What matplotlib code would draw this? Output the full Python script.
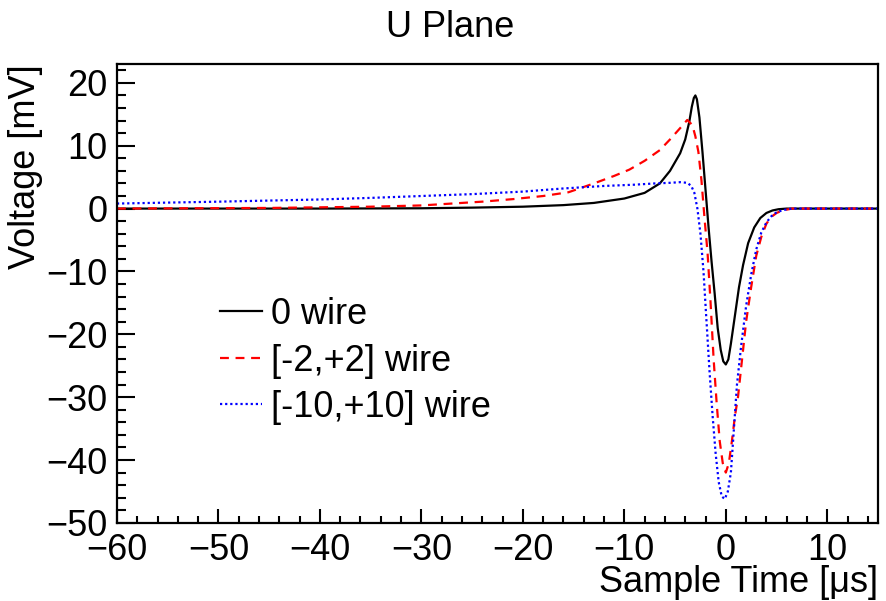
import matplotlib
matplotlib.use("Agg")
import matplotlib.pyplot as plt
from matplotlib.ticker import MultipleLocator

# Sample time [us] and voltage [mV]
t_center = [-60, -40, -30, -25, -20, -16, -13, -10, -8, -6.5, -5.5, -4.5, -4, -3.6,
            -3.35, -3.15, -3.0, -2.85, -2.6, -2.3, -2.0, -1.7, -1.4, -1.1, -0.8, -0.5, -0.25,
            0.0, 0.25, 0.5, 0.9, 1.3, 1.7, 2.2, 2.8, 3.4, 4.0, 4.6, 5.2, 6, 8, 15]
v_center = [0, 0, 0.05, 0.15, 0.3, 0.55, 0.9, 1.6, 2.5, 4.0, 6, 8.8, 11, 13.8,
            16.2, 17.6, 18.0, 17.4, 14.5, 9, 3, -3, -8.5, -13.5, -19, -22.5, -24.3,
            -24.8, -24, -21.5, -17, -12.5, -9, -5.5, -3, -1.5, -0.7, -0.3, -0.1, 0, 0, 0]

t_pm2 = [-60, -45, -35, -30, -27, -24, -21, -18, -15.5, -13, -11, -9.5, -8, -6.5,
         -5.5, -4.5, -3.8, -3.3, -3.0, -2.7, -2.4, -2.1, -1.8, -1.5, -1.2, -0.9,
         -0.6, -0.3, 0.0, 0.3, 0.6, 0.9, 1.2, 1.6, 2.0, 2.5, 3.0, 3.5, 4.0, 4.5,
         5.0, 5.6, 6.5, 8, 15]
v_pm2 = [0, 0.1, 0.3, 0.5, 0.8, 1.1, 1.5, 2.0, 2.6, 4.0, 5.2, 6.2, 7.6, 9.3,
         11, 12.8, 14.1, 13.3, 11.5, 9, 4.5, -1.5, -7, -15, -24, -31,
         -37, -40.5, -42, -40.5, -37, -33, -30, -24, -18, -12.5, -7.5, -4.5, -2.4, -1.3,
         -0.7, -0.3, 0, 0, 0]

t_pm10 = [-60, -50, -40, -35, -30, -25, -20, -16, -12, -9, -7, -5.5, -4.5, -3.8,
          -3.4, -3.1, -2.8, -2.5, -2.2, -1.9, -1.6, -1.3, -1.0, -0.7, -0.4, -0.1,
          0.2, 0.5, 0.8, 1.1, 1.5, 2.0, 2.5, 3.0, 3.5, 4.0, 4.5, 5.0, 5.6, 6.5, 8, 15]
v_pm10 = [0.8, 1.1, 1.45, 1.7, 2.0, 2.3, 2.7, 3.2, 3.6, 3.8, 4.0, 4.1, 4.2, 4.1,
          3.6, 2.5, 0, -4, -10, -18, -26, -33, -39, -43.5, -45.8, -46.2,
          -45, -42, -35, -28, -22, -15.5, -10.5, -6.5, -3.8, -2.2, -1.2, -0.6, -0.25, 0, 0, 0]

labels = ["0 wire", "[-2,+2] wire", "[-10,+10] wire"]

plt.rcParams["font.family"] = ["Liberation Sans", "DejaVu Sans"]
FS = 26

fig = plt.figure(figsize=(8.86, 6.01), dpi=100)
ax = fig.add_axes([0.132, 0.130, 0.859, 0.7635])

ax.plot(t_center, v_center, color="black", lw=1.6, label=labels[0])
ax.plot(t_pm2, v_pm2, color="red", lw=1.6, linestyle=(0, (4, 3)), label=labels[1])
ax.plot(t_pm10, v_pm10, color="blue", lw=1.6, linestyle=(0, (1, 1.3)), label=labels[2])

ax.set_xlim(-60, 15)
ax.set_ylim(-50, 23)

ax.xaxis.set_major_locator(MultipleLocator(10))
ax.xaxis.set_minor_locator(MultipleLocator(2))
ax.yaxis.set_major_locator(MultipleLocator(10))
ax.yaxis.set_minor_locator(MultipleLocator(2))
ax.tick_params(axis="both", which="both", direction="in", top=False, right=False,
               width=1.5, labelsize=FS)
ax.tick_params(axis="x", which="major", length=10, pad=7)
ax.tick_params(axis="x", which="minor", length=5)
ax.tick_params(axis="y", which="major", length=13, pad=7)
ax.tick_params(axis="y", which="minor", length=6.5)
for sp in ax.spines.values():
    sp.set_linewidth(1.6)

ax.set_xlabel("Sample Time [\u03bcs]", fontsize=FS, loc="right", labelpad=-2)
ax.set_ylabel("Voltage [mV]", fontsize=FS, loc="top", labelpad=2)

fig.text(0.508, 0.955, "U Plane", fontsize=FS, ha="center", va="center")

ax.legend(loc="upper left", bbox_to_anchor=(220 / 886, 1 - 297 / 601),
          bbox_transform=fig.transFigure, frameon=False, fontsize=FS,
          handlelength=1.15, handletextpad=0.25, labelspacing=0.32, borderpad=0,
          borderaxespad=0)

fig.savefig("out.png", dpi=100)
